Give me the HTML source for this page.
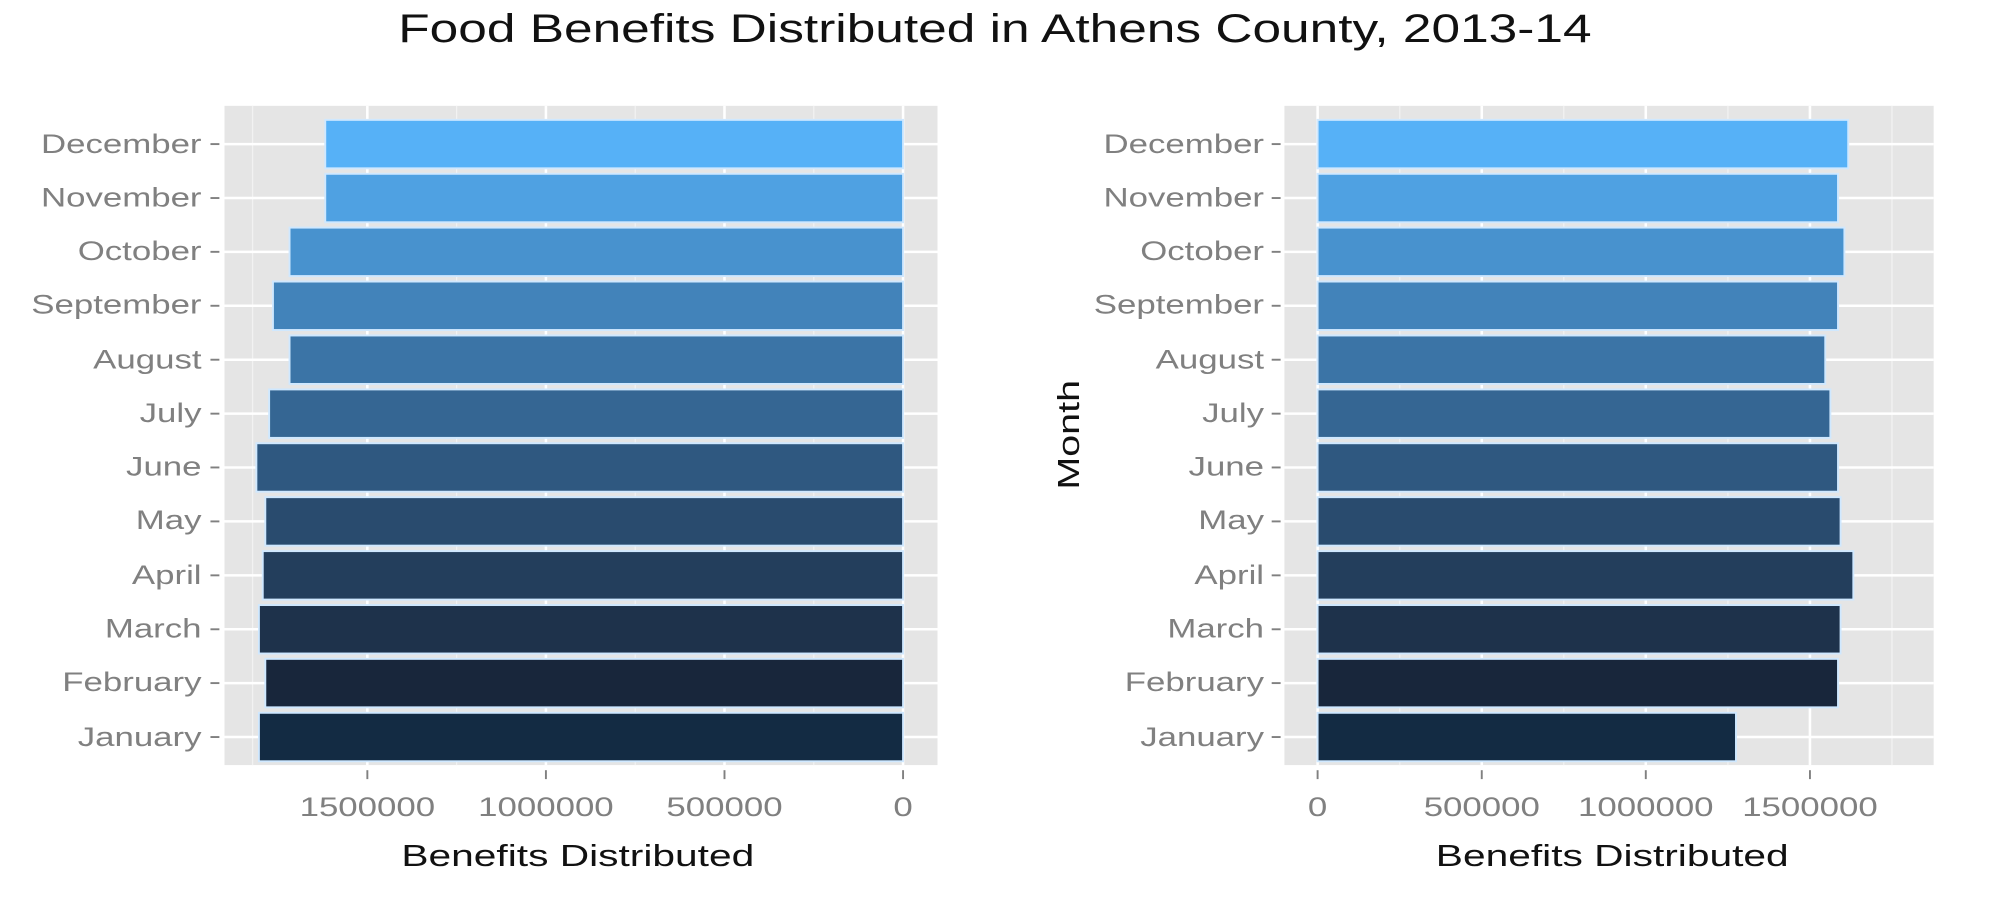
<!DOCTYPE html>
<html><head><meta charset="utf-8"><style>html,body{margin:0;padding:0;background:#fff}svg{display:block}</style></head>
<body>
<svg width="2000" height="913" viewBox="0 0 1568 716" preserveAspectRatio="none" xmlns="http://www.w3.org/2000/svg" font-family="Liberation Sans, sans-serif">
<rect width="1568" height="716" fill="#fff"/>
<text transform="translate(780,33) scale(1.3,1)" font-size="31" text-anchor="middle" fill="#111">Food Benefits Distributed in Athens County, 2013-14</text>
<!-- Left panel -->
<rect x="176" y="83" width="559" height="517" fill="#e5e5e5"/>
<g stroke="#f2f2f2" stroke-width="1">
<line x1="198" y1="83" x2="198" y2="600"/><line x1="358" y1="83" x2="358" y2="600"/><line x1="498" y1="83" x2="498" y2="600"/><line x1="638" y1="83" x2="638" y2="600"/>
</g>
<g stroke="#fff" stroke-width="2">
<line x1="288" y1="83" x2="288" y2="600"/><line x1="428" y1="83" x2="428" y2="600"/><line x1="568" y1="83" x2="568" y2="600"/><line x1="708" y1="83" x2="708" y2="600"/>
<line x1="176" y1="113" x2="735" y2="113"/><line x1="176" y1="155.3" x2="735" y2="155.3"/><line x1="176" y1="197.5" x2="735" y2="197.5"/><line x1="176" y1="239.8" x2="735" y2="239.8"/><line x1="176" y1="282.1" x2="735" y2="282.1"/><line x1="176" y1="324.4" x2="735" y2="324.4"/><line x1="176" y1="366.6" x2="735" y2="366.6"/><line x1="176" y1="408.9" x2="735" y2="408.9"/><line x1="176" y1="451.2" x2="735" y2="451.2"/><line x1="176" y1="493.5" x2="735" y2="493.5"/><line x1="176" y1="535.7" x2="735" y2="535.7"/><line x1="176" y1="578" x2="735" y2="578"/>
</g>
<g stroke="#cfe8ff" stroke-width="1.5">
<rect x="255" y="94" width="453" height="38" fill="#56B1F7"/>
<rect x="255" y="136.3" width="453" height="38" fill="#4FA1E2"/>
<rect x="227" y="178.5" width="481" height="38" fill="#4892CE"/>
<rect x="214" y="220.8" width="494" height="38" fill="#4283BA"/>
<rect x="227" y="263.1" width="481" height="38" fill="#3B74A6"/>
<rect x="211" y="305.4" width="497" height="38" fill="#356693"/>
<rect x="201" y="347.6" width="507" height="38" fill="#2F5880"/>
<rect x="208" y="389.9" width="500" height="38" fill="#294B6E"/>
<rect x="206" y="432.2" width="502" height="38" fill="#233E5C"/>
<rect x="203" y="474.5" width="505" height="38" fill="#1E324B"/>
<rect x="208" y="516.7" width="500" height="38" fill="#18263B"/>
<rect x="203" y="559" width="505" height="38" fill="#132B43"/>
</g>
<g font-size="21" fill="#808080" text-anchor="end">
<text transform="translate(158,120) scale(1.3,1)">December</text><text transform="translate(158,162) scale(1.3,1)">November</text><text transform="translate(158,204) scale(1.3,1)">October</text><text transform="translate(158,246) scale(1.3,1)">September</text><text transform="translate(158,289) scale(1.3,1)">August</text><text transform="translate(158,331) scale(1.3,1)">July</text><text transform="translate(158,373) scale(1.3,1)">June</text><text transform="translate(158,415) scale(1.3,1)">May</text><text transform="translate(158,458) scale(1.3,1)">April</text><text transform="translate(158,500) scale(1.3,1)">March</text><text transform="translate(158,542) scale(1.3,1)">February</text><text transform="translate(158,585) scale(1.3,1)">January</text>
</g>
<g stroke="#808080" stroke-width="1.5">
<line x1="165" y1="113" x2="172" y2="113"/><line x1="165" y1="155.3" x2="172" y2="155.3"/><line x1="165" y1="197.5" x2="172" y2="197.5"/><line x1="165" y1="239.8" x2="172" y2="239.8"/><line x1="165" y1="282.1" x2="172" y2="282.1"/><line x1="165" y1="324.4" x2="172" y2="324.4"/><line x1="165" y1="366.6" x2="172" y2="366.6"/><line x1="165" y1="408.9" x2="172" y2="408.9"/><line x1="165" y1="451.2" x2="172" y2="451.2"/><line x1="165" y1="493.5" x2="172" y2="493.5"/><line x1="165" y1="535.7" x2="172" y2="535.7"/><line x1="165" y1="578" x2="172" y2="578"/>
<line x1="288" y1="604" x2="288" y2="611"/><line x1="428" y1="604" x2="428" y2="611"/><line x1="568" y1="604" x2="568" y2="611"/><line x1="708" y1="604" x2="708" y2="611"/>
</g>
<g font-size="21" fill="#808080" text-anchor="middle">
<text transform="translate(288,640) scale(1.3,1)">1500000</text><text transform="translate(428,640) scale(1.3,1)">1000000</text><text transform="translate(568,640) scale(1.3,1)">500000</text><text transform="translate(708,640) scale(1.3,1)">0</text>
</g>
<text transform="translate(453,679) scale(1.33,1)" font-size="24" text-anchor="middle" fill="#111">Benefits Distributed</text>
<!-- Right panel -->
<rect x="1007" y="83" width="509" height="517" fill="#e5e5e5"/>
<g stroke="#f2f2f2" stroke-width="1">
<line x1="1097.4" y1="83" x2="1097.4" y2="600"/><line x1="1226" y1="83" x2="1226" y2="600"/><line x1="1354.7" y1="83" x2="1354.7" y2="600"/><line x1="1483.3" y1="83" x2="1483.3" y2="600"/>
</g>
<g stroke="#fff" stroke-width="2">
<line x1="1033" y1="83" x2="1033" y2="600"/><line x1="1161.7" y1="83" x2="1161.7" y2="600"/><line x1="1290.3" y1="83" x2="1290.3" y2="600"/><line x1="1419" y1="83" x2="1419" y2="600"/>
<line x1="1007" y1="113" x2="1516" y2="113"/><line x1="1007" y1="155.3" x2="1516" y2="155.3"/><line x1="1007" y1="197.5" x2="1516" y2="197.5"/><line x1="1007" y1="239.8" x2="1516" y2="239.8"/><line x1="1007" y1="282.1" x2="1516" y2="282.1"/><line x1="1007" y1="324.4" x2="1516" y2="324.4"/><line x1="1007" y1="366.6" x2="1516" y2="366.6"/><line x1="1007" y1="408.9" x2="1516" y2="408.9"/><line x1="1007" y1="451.2" x2="1516" y2="451.2"/><line x1="1007" y1="493.5" x2="1516" y2="493.5"/><line x1="1007" y1="535.7" x2="1516" y2="535.7"/><line x1="1007" y1="578" x2="1516" y2="578"/>
</g>
<g stroke="#cfe8ff" stroke-width="1.5">
<rect x="1033" y="94" width="416" height="38" fill="#56B1F7"/>
<rect x="1033" y="136.3" width="408" height="38" fill="#4FA1E2"/>
<rect x="1033" y="178.5" width="413" height="38" fill="#4892CE"/>
<rect x="1033" y="220.8" width="408" height="38" fill="#4283BA"/>
<rect x="1033" y="263.1" width="398" height="38" fill="#3B74A6"/>
<rect x="1033" y="305.4" width="402" height="38" fill="#356693"/>
<rect x="1033" y="347.6" width="408" height="38" fill="#2F5880"/>
<rect x="1033" y="389.9" width="410" height="38" fill="#294B6E"/>
<rect x="1033" y="432.2" width="420" height="38" fill="#233E5C"/>
<rect x="1033" y="474.5" width="410" height="38" fill="#1E324B"/>
<rect x="1033" y="516.7" width="408" height="38" fill="#18263B"/>
<rect x="1033" y="559" width="328" height="38" fill="#132B43"/>
</g>
<g font-size="21" fill="#808080" text-anchor="end">
<text transform="translate(991,120) scale(1.3,1)">December</text><text transform="translate(991,162) scale(1.3,1)">November</text><text transform="translate(991,204) scale(1.3,1)">October</text><text transform="translate(991,246) scale(1.3,1)">September</text><text transform="translate(991,289) scale(1.3,1)">August</text><text transform="translate(991,331) scale(1.3,1)">July</text><text transform="translate(991,373) scale(1.3,1)">June</text><text transform="translate(991,415) scale(1.3,1)">May</text><text transform="translate(991,458) scale(1.3,1)">April</text><text transform="translate(991,500) scale(1.3,1)">March</text><text transform="translate(991,542) scale(1.3,1)">February</text><text transform="translate(991,585) scale(1.3,1)">January</text>
</g>
<g stroke="#808080" stroke-width="1.5">
<line x1="997" y1="113" x2="1004" y2="113"/><line x1="997" y1="155.3" x2="1004" y2="155.3"/><line x1="997" y1="197.5" x2="1004" y2="197.5"/><line x1="997" y1="239.8" x2="1004" y2="239.8"/><line x1="997" y1="282.1" x2="1004" y2="282.1"/><line x1="997" y1="324.4" x2="1004" y2="324.4"/><line x1="997" y1="366.6" x2="1004" y2="366.6"/><line x1="997" y1="408.9" x2="1004" y2="408.9"/><line x1="997" y1="451.2" x2="1004" y2="451.2"/><line x1="997" y1="493.5" x2="1004" y2="493.5"/><line x1="997" y1="535.7" x2="1004" y2="535.7"/><line x1="997" y1="578" x2="1004" y2="578"/>
<line x1="1033" y1="604" x2="1033" y2="611"/><line x1="1161.7" y1="604" x2="1161.7" y2="611"/><line x1="1290.3" y1="604" x2="1290.3" y2="611"/><line x1="1419" y1="604" x2="1419" y2="611"/>
</g>
<g font-size="21" fill="#808080" text-anchor="middle">
<text transform="translate(1033,640) scale(1.3,1)">0</text><text transform="translate(1161.7,640) scale(1.3,1)">500000</text><text transform="translate(1290.3,640) scale(1.3,1)">1000000</text><text transform="translate(1419,640) scale(1.3,1)">1500000</text>
</g>
<text transform="translate(1264,679) scale(1.33,1)" font-size="24" text-anchor="middle" fill="#111">Benefits Distributed</text>
<text transform="translate(846,341) rotate(-90) scale(1.29,1)" font-size="24" text-anchor="middle" fill="#111">Month</text>
</svg>
</body></html>
